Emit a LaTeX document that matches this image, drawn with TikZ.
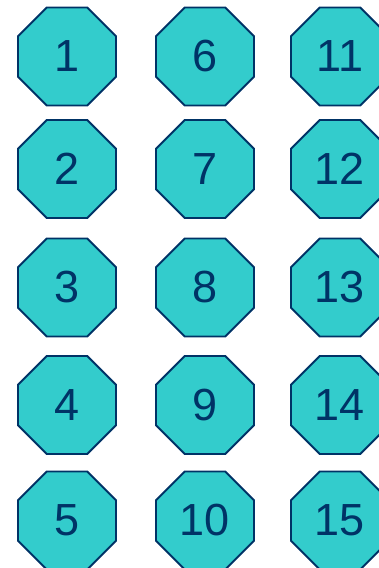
\documentclass[tikz,border=0pt]{standalone}
\usepackage{fontspec}
\setmainfont{Liberation Sans}
\usetikzlibrary{shapes.geometric}
\definecolor{octfill}{HTML}{33CCCC}
\definecolor{octline}{HTML}{003366}
\begin{document}
\begin{tikzpicture}[
		x=1pt, y=-1pt,
		every node/.style={regular polygon, regular polygon sides=8, minimum size=106pt,
			inner sep=0pt, fill=octfill, draw=octline, line width=1.8pt,
			text=octline, font=\fontsize{45}{45}\selectfont},
		]
		\useasboundingbox (0,0) rectangle (379,568);
		\node (1) at ( 67, 56.5) {1};
		\node (2) at ( 67,169) {2};
		\node (3) at ( 67,287.5) {3};
		\node (4) at ( 67,405) {4};
		\node (5) at ( 67,520.5) {5};
		\node (6) at (205, 56.5) {6};
		\node (7) at (205,169) {7};
		\node (8) at (205,287.5) {8};
		\node (9) at (205,405) {9};
		\node (10) at (205,520.5) {10};
		\node (11) at (340, 56.5) {11};
		\node (12) at (340,169) {12};
		\node (13) at (340,287.5) {13};
		\node (14) at (340,405) {14};
		\node (15) at (340,520.5) {15};
	\end{tikzpicture}
\end{document}
